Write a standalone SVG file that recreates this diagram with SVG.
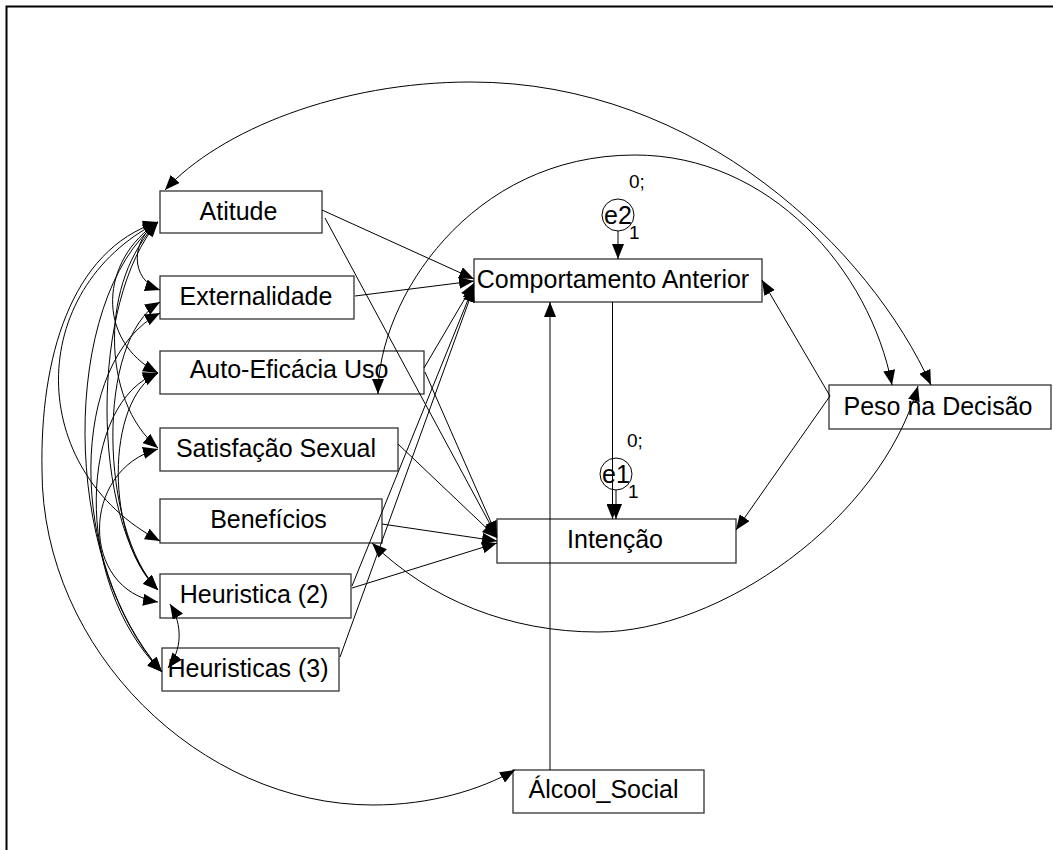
<svg xmlns="http://www.w3.org/2000/svg" width="1053" height="850" viewBox="0 0 1053 850">
<style>
.box{fill:#fff;stroke:#333;stroke-width:1.3}
.lbl{font-family:"Liberation Sans",Arial,sans-serif;font-size:25px;fill:#000;text-anchor:middle}
.sm{font-family:"Liberation Sans",Arial,sans-serif;font-size:19px;fill:#000}
.c{fill:none;stroke:#000;stroke-width:1}
.one{marker-end:url(#ah)}
.two{marker-start:url(#ah);marker-end:url(#ah)}
.err{fill:none;stroke:#000;stroke-width:1}
</style>
<defs>
<marker id="ah" viewBox="0 0 15 12" refX="15" refY="6" markerWidth="15" markerHeight="12" markerUnits="userSpaceOnUse" orient="auto-start-reverse"><path d="M0,0 L15,6 L0,12 z" fill="#000"/></marker>
</defs>
<rect x="6.5" y="6.5" width="1080" height="880" fill="none" stroke="#000" stroke-width="2"/>
<g id="n-atitude"><rect class="box" x="160" y="191" width="162" height="42"/><text class="lbl" x="238.5" y="220">Atitude</text></g>
<g id="n-externalidade"><rect class="box" x="160" y="276" width="194" height="43"/><text class="lbl" x="256" y="305">Externalidade</text></g>
<g id="n-autoeficacia"><rect class="box" x="160" y="351" width="264" height="43"/><text class="lbl" x="289" y="378">Auto-Eficácia Uso</text></g>
<g id="n-satisfacao"><rect class="box" x="160" y="428" width="238" height="43"/><text class="lbl" x="276" y="457">Satisfação Sexual</text></g>
<g id="n-beneficios"><rect class="box" x="160" y="499" width="222" height="44"/><text class="lbl" x="268.5" y="528">Benefícios</text></g>
<g id="n-heur2"><rect class="box" x="160" y="574" width="191" height="44"/><text class="lbl" x="254" y="603">Heuristica (2)</text></g>
<g id="n-heur3"><rect class="box" x="162" y="648" width="177" height="43"/><text class="lbl" x="248" y="677">Heuristicas (3)</text></g>
<g id="n-comportamento"><rect class="box" x="474" y="259" width="288" height="43"/><text class="lbl" x="613" y="288">Comportamento Anterior</text></g>
<g id="n-intencao"><rect class="box" x="497" y="519" width="239" height="44"/><text class="lbl" x="615" y="548">Intenção</text></g>
<g id="n-peso"><rect class="box" x="829" y="385" width="222" height="44"/><text class="lbl" x="938" y="415">Peso na Decisão</text></g>
<g id="n-alcool"><rect class="box" x="513" y="770" width="191" height="43"/><text class="lbl" x="603.5" y="798">Álcool_Social</text></g>
<g id="n-e2"><circle class="err" cx="618" cy="215" r="16"/><text class="lbl" x="618" y="224">e2</text><text class="sm" x="629" y="188">0;</text><text class="sm" x="629" y="239">1</text></g>
<g id="n-e1"><circle class="err" cx="616" cy="474" r="16"/><text class="lbl" x="616" y="483">e1</text><text class="sm" x="627" y="447">0;</text><text class="sm" x="628" y="498">1</text></g>
<g id="connectors">
<path class="c one" d="M322,210 L474,279"/>
<path class="c one" d="M325,218 L497,537"/>
<path class="c one" d="M355,296 L474,281"/>
<path class="c one" d="M424,368 L474,283"/>
<path class="c one" d="M425,372 L497,536"/>
<path class="c one" d="M398,444 L497,538"/>
<path class="c one" d="M382,524 L497,541"/>
<path class="c one" d="M352,588 L497,543"/>
<path class="c one" d="M352,586 L474,285"/>
<path class="c one" d="M340,657 L474,287"/>
<path class="c one" d="M830,396 L762,280"/>
<path class="c one" d="M830,396 L736,530"/>
<path class="c one" d="M550,770 L550,302"/>
<path class="c one" d="M612.5,302 L612.5,519"/>
<path class="c one" d="M616,490 L616,519"/>
<path class="c one" d="M618,231 L618,259"/>
<path class="c two" d="M165,190 C220,130 340,82 471,82 C700,82 870,250 931,385"/>
<path class="c two" d="M378,394 C378,300 470,155 635,155 C770,155 870,270 892,385"/>
<path class="c two" d="M372,543 C430,600 510,632 598,632 C720,632 880,520 918,386"/>
<path class="c two" d="M158,222 C70,250 40,360 42,470 C42,650 200,805 373,805 C430,805 480,790 515,770"/>
<path class="c two" d="M158,222 C130,240 130,280 160,290"/>
<path class="c two" d="M158,222 C100,260 95,340 158,373"/>
<path class="c two" d="M158,222 C100,280 100,400 158,448"/>
<path class="c two" d="M158,222 C25,290 25,470 160,541"/>
<path class="c two" d="M158,222 C90,300 90,520 158,590"/>
<path class="c two" d="M158,222 C60,300 60,560 162,672"/>
<path class="c two" d="M160,302 C95,340 100,530 158,590"/>
<path class="c two" d="M160,313 C70,360 65,560 162,672"/>
<path class="c two" d="M158,373 C105,400 105,540 158,590"/>
<path class="c two" d="M158,373 C80,400 70,580 162,672"/>
<path class="c two" d="M158,449 C80,470 80,590 158,602"/>
<path class="c two" d="M170,604 C183,625 182,650 168,668"/>
</g>
</svg>
